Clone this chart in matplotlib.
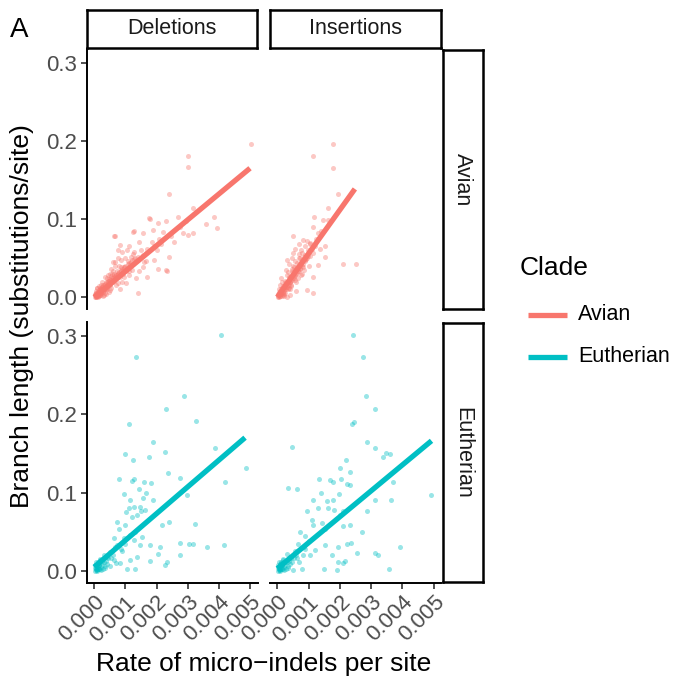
import matplotlib
matplotlib.use('Agg')
import matplotlib.pyplot as plt
from matplotlib.lines import Line2D

plt.rcParams['font.family'] = ['Liberation Sans', 'DejaVu Sans']

W, H = 675, 685

# colours per clade
colors = {'Avian': '#F8766D', 'Eutherian': '#00BFC4'}
facet_cols = ['Deletions', 'Insertions']
facet_rows = ['Avian', 'Eutherian']

# ---- data: x = indel rate in units of 1e-3 per site, y = branch length ----
del_avian_x = [5.03, 3.02, 3.02, 2.40, 3.18, 3.85, 3.95, 3.58, 3.02, 1.80, 1.26, 0.64, 2.35, 1.69,
               2.84, 3.16, 2.95, 2.68, 1.77, 2.04, 2.31, 1.88, 2.20, 2.47, 2.09, 1.56, 1.24, 0.65,
               0.76, 0.81, 1.13, 1.29, 1.56, 1.93, 2.41, 2.04, 2.31, 1.93, 1.67, 1.45, 1.35, 1.40,
               1.03, 0.81,
               0.02, 0.05, 0.08, 0.10, 0.12, 0.15, 0.18, 0.20, 0.22, 0.25, 0.28, 0.30, 0.32, 0.35,
               0.38, 0.40, 0.42, 0.45, 0.48, 0.50, 0.52, 0.55, 0.58, 0.60, 0.62, 0.65, 0.68, 0.70,
               0.72, 0.75, 0.78, 0.80, 0.83, 0.85, 0.88, 0.90, 0.93, 0.95, 0.98, 1.00, 1.05, 1.10,
               1.15, 1.20, 1.25, 1.30, 1.35, 1.40,
               0.10, 0.20, 0.30, 0.40, 0.50, 0.60, 0.70, 0.80, 0.90, 1.00, 1.10, 0.25, 0.45, 0.55,
               0.65, 0.75, 0.35, 0.15, 0.05, 0.08, 0.12, 0.18, 0.28, 0.38, 0.48, 0.58, 0.68, 0.85,
               0.95, 1.20, 1.25, 1.05, 0.75, 0.60, 0.55, 0.03, 0.06, 0.14, 0.24, 0.33, 0.43,
               0.01, 0.04, 0.07, 0.09, 0.11, 0.13, 0.16, 0.19, 0.21, 0.23, 0.26, 0.29, 0.31, 0.34,
               0.36, 0.39, 0.41, 0.44, 0.46, 0.49, 0.51, 0.54, 0.57, 0.61, 0.64, 0.67, 0.71, 0.74,
               0.77, 0.82, 0.86, 0.92, 0.97, 1.02, 1.08, 1.13, 1.18, 1.28,
               0.06, 0.12, 0.17, 0.27, 0.37, 0.47, 0.53, 0.63, 0.73, 0.87, 1.07, 1.17, 0.22, 0.42,
               1.50, 1.60, 1.70, 1.45, 1.55, 1.85, 1.65, 2.00, 2.15, 2.55, 2.75, 0.90, 1.10, 0.50]
del_avian_y = [0.196, 0.180, 0.166, 0.132, 0.114, 0.102, 0.088, 0.093, 0.080, 0.100, 0.085, 0.078,
               0.034, 0.026,
               0.082, 0.082, 0.097, 0.103, 0.101, 0.095, 0.097, 0.086, 0.084, 0.078, 0.075, 0.082,
               0.084, 0.078, 0.060, 0.067, 0.065, 0.058, 0.054, 0.065, 0.052, 0.036, 0.035, 0.048,
               0.046, 0.033, 0.024, 0.005, 0.018, 0.011,
               0.000, 0.002, 0.001, 0.004, 0.003, 0.006, 0.004, 0.008, 0.005, 0.010, 0.007, 0.012,
               0.009, 0.014, 0.011, 0.016, 0.013, 0.018, 0.015, 0.020, 0.017, 0.022, 0.019, 0.024,
               0.021, 0.026, 0.023, 0.028, 0.025, 0.030, 0.027, 0.032, 0.029, 0.034, 0.031, 0.036,
               0.033, 0.038, 0.035, 0.040, 0.037, 0.044, 0.041, 0.047, 0.043, 0.050, 0.046, 0.052,
               0.012, 0.016, 0.003, 0.024, 0.009, 0.033, 0.015, 0.040, 0.020, 0.050, 0.028, 0.020,
               0.028, 0.012, 0.040, 0.018, 0.026, 0.014, 0.008, 0.012, 0.000, 0.010, 0.001, 0.004,
               0.007, 0.030, 0.045, 0.048, 0.026, 0.035, 0.055, 0.060, 0.050, 0.045, 0.036, 0.004,
               0.000, 0.002, 0.013, 0.006, 0.021,
               0.003, 0.000, 0.005, 0.002, 0.007, 0.001, 0.009, 0.003, 0.011, 0.006, 0.013, 0.008,
               0.015, 0.010, 0.017, 0.012, 0.019, 0.014, 0.021, 0.016, 0.023, 0.018, 0.025, 0.020,
               0.027, 0.022, 0.029, 0.024, 0.031, 0.026, 0.035, 0.030, 0.039, 0.034, 0.042, 0.038,
               0.045, 0.049,
               0.005, 0.007, 0.012, 0.015, 0.019, 0.023, 0.027, 0.030, 0.034, 0.039, 0.046, 0.052,
               0.003, 0.010, 0.060, 0.045, 0.062, 0.070, 0.038, 0.070, 0.056, 0.060, 0.068, 0.070,
               0.090, 0.058, 0.033, 0.030]

ins_avian_x = [1.79, 1.15, 1.77, 1.94, 1.63, 2.11, 2.51, 1.17, 1.47, 1.15, 0.51, 0.83, 1.31, 1.52,
               1.52, 1.31, 1.15, 1.15, 0.94, 0.51, 0.30, 1.63, 1.05,
               0.02, 0.05, 0.08, 0.10, 0.12, 0.15, 0.18, 0.20, 0.22, 0.25, 0.28, 0.30, 0.32, 0.35,
               0.38, 0.40, 0.42, 0.45, 0.48, 0.50, 0.52, 0.55, 0.58, 0.60, 0.62, 0.65, 0.68, 0.70,
               0.72, 0.75, 0.78, 0.80, 0.83, 0.85, 0.88, 0.90, 0.95, 1.00, 1.05, 1.10, 1.15, 1.20,
               0.10, 0.20, 0.30, 0.40, 0.50, 0.60, 0.70, 0.80, 0.90, 1.00, 0.15, 0.25, 0.35, 0.45,
               0.55, 0.65, 0.75, 0.85, 0.95, 1.05, 0.05, 0.12, 0.28, 0.38, 0.48, 0.58, 0.68, 0.30,
               0.42, 0.60, 0.03, 0.07, 0.14, 0.22, 0.33, 0.44,
               0.01, 0.04, 0.06, 0.09, 0.11, 0.13, 0.16, 0.19, 0.21, 0.24, 0.26, 0.29, 0.31, 0.34,
               0.36, 0.39, 0.41, 0.44, 0.46, 0.49, 0.51, 0.54, 0.57, 0.61, 0.64, 0.67, 0.71, 0.74,
               0.77, 0.82, 0.87, 0.92, 0.97,
               0.08, 0.17, 0.27, 0.37, 0.47, 0.53, 0.63, 0.73, 0.18, 0.36, 0.56, 0.76, 0.26, 0.46,
               1.25, 1.35, 1.40, 0.70, 0.80, 0.98]
ins_avian_y = [0.196, 0.180, 0.165, 0.132, 0.114, 0.042, 0.042, 0.103, 0.099, 0.090, 0.078, 0.073,
               0.082, 0.065, 0.052, 0.041, 0.026, 0.005, 0.009, 0.056, 0.048, 0.099, 0.069,
               0.001, 0.003, 0.002, 0.006, 0.004, 0.009, 0.006, 0.012, 0.008, 0.015, 0.011, 0.018,
               0.013, 0.021, 0.016, 0.024, 0.019, 0.027, 0.022, 0.030, 0.025, 0.033, 0.028, 0.036,
               0.031, 0.039, 0.034, 0.042, 0.037, 0.045, 0.040, 0.048, 0.043, 0.051, 0.046, 0.054,
               0.050, 0.058, 0.053, 0.062, 0.057, 0.066,
               0.015, 0.002, 0.028, 0.010, 0.040, 0.020, 0.055, 0.030, 0.065, 0.040, 0.020, 0.005,
               0.032, 0.014, 0.046, 0.025, 0.060, 0.035, 0.072, 0.068, 0.010, 0.025, 0.035, 0.042,
               0.050, 0.062, 0.068, 0.000, 0.003, 0.008, 0.000, 0.007, 0.001, 0.004, 0.010, 0.015,
               0.004, 0.000, 0.007, 0.002, 0.010, 0.004, 0.012, 0.007, 0.014, 0.010, 0.017, 0.013,
               0.020, 0.016, 0.023, 0.019, 0.026, 0.021, 0.029, 0.024, 0.032, 0.027, 0.035, 0.030,
               0.038, 0.033, 0.041, 0.036, 0.044, 0.039, 0.047, 0.049, 0.053,
               0.008, 0.014, 0.020, 0.026, 0.033, 0.038, 0.044, 0.050, 0.003, 0.012, 0.022, 0.028,
               0.021, 0.036, 0.075, 0.062, 0.085, 0.050, 0.056, 0.060]

del_euth_x = [4.06, 1.35, 2.88, 2.29, 1.13, 3.25, 1.89, 0.99, 2.26, 1.76, 1.24, 3.87, 4.86, 2.37,
              0.78, 1.21, 1.26, 1.61, 1.82, 2.74, 4.21, 1.42, 0.96, 1.67, 1.58, 1.90, 1.15, 2.99,
              1.10, 1.26, 1.47, 1.51, 1.03, 1.21, 1.37, 1.63, 0.73, 0.99, 0.78, 2.18, 2.40, 3.23,
              2.76, 3.05, 3.18, 3.61, 4.17, 2.74, 2.12, 1.79, 1.47, 1.53, 1.26, 1.15, 0.94, 0.62,
              0.73, 2.03, 1.79, 2.33, 2.28, 1.37, 1.15, 0.83, 1.05, 1.31, 0.62, 0.51,
              0.05, 0.10, 0.15, 0.08, 0.20, 0.25, 0.12, 0.30, 0.35, 0.18, 0.40, 0.22, 0.45, 0.05,
              0.28, 0.60, 0.50, 0.70, 0.32, 0.90, 1.00, 0.85, 1.30, 0.65, 0.03, 0.14, 0.38,
              0.02, 0.04, 0.07, 0.09, 0.11, 0.13, 0.16, 0.19, 0.06, 0.10, 0.17, 0.24, 0.33, 0.42,
              0.55, 0.02, 0.08, 0.12]
del_euth_y = [0.301, 0.273, 0.223, 0.207, 0.188, 0.191, 0.165, 0.149, 0.152, 0.145, 0.141, 0.157,
              0.131, 0.125, 0.117, 0.115, 0.117, 0.114, 0.112, 0.118, 0.113, 0.105, 0.098, 0.100,
              0.093, 0.091, 0.091, 0.097, 0.080, 0.081, 0.082, 0.076, 0.075, 0.069, 0.071, 0.078,
              0.063, 0.059, 0.054, 0.058, 0.063, 0.060, 0.036, 0.034, 0.034, 0.030, 0.033, 0.020,
              0.030, 0.033, 0.033, 0.043, 0.040, 0.046, 0.042, 0.042, 0.033, 0.022, 0.013, 0.011,
              0.008, 0.018, 0.014, 0.010, 0.003, 0.003, 0.014, 0.006,
              0.001, 0.003, 0.002, 0.006, 0.005, 0.008, 0.010, 0.012, 0.004, 0.015, 0.009, 0.001,
              0.016, 0.004, 0.003, 0.020, 0.024, 0.010, 0.020, 0.025, 0.035, 0.028, 0.050, 0.030,
              0.000, 0.007, 0.013,
              0.004, 0.002, 0.008, 0.000, 0.005, 0.011, 0.007, 0.003, 0.012, 0.009, 0.014, 0.011,
              0.006, 0.018, 0.016, 0.008, 0.001, 0.002]

ins_euth_x = [2.41, 2.75, 2.83, 3.12, 2.38, 2.46, 0.48, 2.86, 3.12, 3.47, 3.60, 3.39, 2.19, 2.00,
              2.32, 1.34, 1.68, 1.77, 2.04, 2.22, 2.32, 3.71, 0.35, 0.62, 1.40, 1.97, 3.12, 3.64,
              4.93, 1.15, 1.58, 1.79, 0.94, 1.31, 1.63, 1.81, 2.11, 2.00, 2.86, 1.10, 1.15, 1.42,
              1.52, 2.11, 2.32, 2.70, 0.73, 0.88, 1.52, 1.95, 2.24, 2.35, 3.92, 3.12, 3.23, 2.54,
              1.74, 1.21, 1.05, 0.83, 1.93, 2.11, 2.16, 1.50, 1.90, 3.57, 0.78, 0.51, 0.46, 0.62,
              0.05, 0.10, 0.15, 0.08, 0.20, 0.25, 0.12, 0.30, 0.35, 0.18, 0.40, 0.22, 0.45, 0.05,
              0.28, 0.60, 0.55, 0.70, 0.32, 0.90, 1.00, 0.85, 0.65, 0.03, 0.14, 0.38,
              0.02, 0.04, 0.07, 0.09, 0.11, 0.13, 0.16, 0.19, 0.06, 0.10, 0.17, 0.24, 0.33, 0.42,
              0.52, 0.02, 0.08, 0.12]
ins_euth_y = [0.301, 0.273, 0.223, 0.207, 0.188, 0.190, 0.158, 0.165, 0.157, 0.151, 0.149, 0.145,
              0.141, 0.131, 0.126, 0.117, 0.116, 0.114, 0.117, 0.111, 0.110, 0.113, 0.106, 0.105,
              0.100, 0.098, 0.091, 0.091, 0.097, 0.091, 0.089, 0.091, 0.076, 0.080, 0.080, 0.078,
              0.076, 0.071, 0.076, 0.065, 0.058, 0.061, 0.054, 0.057, 0.058, 0.050, 0.050, 0.044,
              0.033, 0.031, 0.035, 0.036, 0.031, 0.023, 0.020, 0.023, 0.020, 0.027, 0.020, 0.020,
              0.012, 0.010, 0.013, 0.003, 0.001, 0.003, 0.003, 0.001, 0.012, 0.016,
              0.001, 0.003, 0.002, 0.006, 0.005, 0.008, 0.010, 0.012, 0.004, 0.015, 0.009, 0.001,
              0.016, 0.004, 0.003, 0.020, 0.026, 0.012, 0.022, 0.028, 0.038, 0.030, 0.034, 0.000,
              0.007, 0.013,
              0.004, 0.002, 0.008, 0.000, 0.005, 0.011, 0.007, 0.003, 0.012, 0.009, 0.014, 0.011,
              0.006, 0.018, 0.016, 0.008, 0.001, 0.002]

# lm fit lines (start/end)
fit_del_avian_x = [0.00, 5.00]
fit_del_avian_y = [0.000, 0.165]
fit_ins_avian_x = [0.00, 2.48]
fit_ins_avian_y = [0.000, 0.1385]
fit_del_euth_x = [0.00, 4.84]
fit_del_euth_y = [0.005, 0.170]
fit_ins_euth_x = [0.00, 4.93]
fit_ins_euth_y = [0.003, 0.166]

x_ticks = [0.000, 0.001, 0.002, 0.003, 0.004, 0.005]
y_ticks = [0.0, 0.1, 0.2, 0.3]

panels = {
    ('Avian', 'Deletions'): (del_avian_x, del_avian_y, fit_del_avian_x, fit_del_avian_y),
    ('Avian', 'Insertions'): (ins_avian_x, ins_avian_y, fit_ins_avian_x, fit_ins_avian_y),
    ('Eutherian', 'Deletions'): (del_euth_x, del_euth_y, fit_del_euth_x, fit_del_euth_y),
    ('Eutherian', 'Insertions'): (ins_euth_x, ins_euth_y, fit_ins_euth_x, fit_ins_euth_y),
}


def rect(x0, y0, x1, y1):
    # pixel box (top-left origin) -> figure fraction
    return [x0 / W, 1 - y1 / H, (x1 - x0) / W, (y1 - y0) / H]


fig = plt.figure(figsize=(W / 100, H / 100), dpi=100)

col_px = [(86.5, 257.8), (269.5, 441.5)]
row_px = [(49.4, 309.0), (322.4, 582.8)]
tick_grey = '#4D4D4D'

for i, clade in enumerate(facet_rows):
    for j, kind in enumerate(facet_cols):
        xs, ys, fx, fy = panels[(clade, kind)]
        ax = fig.add_axes(rect(col_px[j][0], row_px[i][0], col_px[j][1], row_px[i][1]))
        ax.scatter([v * 1e-3 for v in xs], ys, s=13, color=colors[clade], alpha=0.4,
                   linewidths=0, zorder=2)
        ax.plot([v * 1e-3 for v in fx], fy, color=colors[clade], lw=3.8,
                solid_capstyle='butt', zorder=3)
        ax.set_xlim(-0.00025, 0.00525)
        ax.set_ylim(-0.0151, 0.317)
        ax.set_xticks(x_ticks)
        ax.set_yticks(y_ticks)
        for s in ax.spines.values():
            s.set_visible(False)
        ax.tick_params(length=4.5, width=1.2, color='#333333', labelsize=16,
                       labelcolor=tick_grey, pad=2)
        if j == 0:
            ax.spines['left'].set_visible(True)
            ax.spines['left'].set_linewidth(1.4)
            ax.set_yticklabels([f'{t:.1f}' for t in y_ticks])
        else:
            ax.tick_params(axis='y', left=False, labelleft=False)
        if i == 1:
            ax.spines['bottom'].set_visible(True)
            ax.spines['bottom'].set_linewidth(1.4)
            ax.set_xticklabels([f'{t:.3f}' for t in x_ticks], rotation=45,
                               ha='right', va='top', rotation_mode='anchor')
        else:
            ax.tick_params(axis='x', bottom=False, labelbottom=False)

# strips
for j, kind in enumerate(facet_cols):
    x0, x1 = col_px[j]
    sax = fig.add_axes(rect(x0 + 0.5, 10, x1 - 0.5, 48))
    sax.set_xticks([]); sax.set_yticks([])
    for s in sax.spines.values():
        s.set_linewidth(1.8)
    sax.text(0.5, 0.5, kind, ha='center', va='center', fontsize=15.5, color='#1A1A1A',
             transform=sax.transAxes)
for i, clade in enumerate(facet_rows):
    y0, y1 = row_px[i]
    sax = fig.add_axes(rect(442.5, y0 + 0.5, 483, y1 - 0.5))
    sax.set_xticks([]); sax.set_yticks([])
    for s in sax.spines.values():
        s.set_linewidth(1.8)
    sax.text(0.5, 0.5, clade, ha='center', va='center', fontsize=15.5, color='#1A1A1A',
             rotation=-90, transform=sax.transAxes)

# axis titles
fig.text(22 / W, 1 - 316 / H, 'Branch length (substitutions/site)', rotation=90,
         ha='center', va='center', fontsize=19)
fig.text(264 / W, 1 - 664 / H, 'Rate of micro\u2212indels per site', ha='center',
         va='center', fontsize=19)
fig.text(10 / W, 1 - 30 / H, 'A', ha='left', va='center', fontsize=20)

# legend
fig.text(520 / W, 1 - 268 / H, 'Clade', ha='left', va='center', fontsize=19)
for k, clade in enumerate(facet_rows):
    yy = 1 - (315 + 42 * k) / H
    fig.add_artist(Line2D([528 / W, 567 / W], [yy, yy], color=colors[clade], lw=3.8,
                          solid_capstyle='butt', transform=fig.transFigure))
    fig.text(578 / W, yy, clade, ha='left', va='center', fontsize=15.5)

fig.savefig('out.png', dpi=100)
